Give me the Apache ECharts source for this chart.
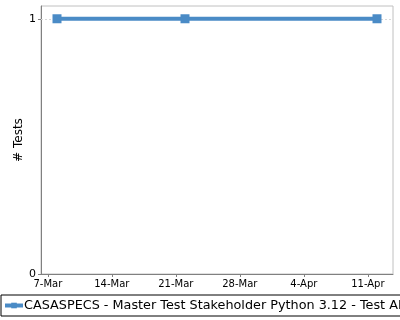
<!DOCTYPE html>
<html><head><meta charset="utf-8">
<script src="https://cdn.jsdelivr.net/npm/echarts@6/dist/echarts.min.js"></script>
<style>html,body{margin:0;padding:0;background:#fff}#c{width:400px;height:320px}</style>
</head><body><div id="c"></div>
<script>
const seriesName = 'CASASPECS - Master Test Stakeholder Python 3.12 - Test ALL';
const dates = [[2024,3,8],[2024,3,22],[2024,4,12]];
const testCounts = [1, 1, 1];
const tickDates = [[2024,3,7],[2024,3,14],[2024,3,21],[2024,3,28],[2024,4,4],[2024,4,11]];
const yTicks = [0, 1];
const months = ['Jan','Feb','Mar','Apr','May','Jun','Jul','Aug','Sep','Oct','Nov','Dec'];

const toTs = d => new Date(d[0], d[1]-1, d[2]).getTime();
const xs = dates.map(toTs);
const pad = (xs[xs.length-1]-xs[0]) * 0.05;
const font = 'DejaVu Sans';

const chart = echarts.init(document.getElementById('c'), null, {renderer:'canvas'});
chart.setOption({
  animation: false,
  textStyle: {fontFamily: font},
  grid: {left: 41, right: 7, top: 6, bottom: 46, show: true, borderColor: '#c0c0c0', borderWidth: 1,
    containLabel: false, outerBoundsMode: 'none'},
  xAxis: {
    type: 'value',
    min: xs[0] - pad, max: xs[xs.length-1] + pad,
    axisLine: {lineStyle: {color: '#808080', width: 1}},
    axisTick: {show: true, customValues: tickDates.map(toTs), length: 3, lineStyle: {color: '#808080'}},
    axisLabel: {customValues: tickDates.map(toTs), color: '#000', fontSize: 10, fontFamily: font, margin: 5,
      formatter: v => { const d = new Date(v); return d.getDate() + '-' + months[d.getMonth()]; }},
    splitLine: {show: false}
  },
  yAxis: {
    type: 'value', min: 0, max: 1.05,
    name: '# Tests', nameLocation: 'middle', nameGap: 16, nameMoveOverlap: false,
    nameTextStyle: {color: '#000', fontSize: 12, fontFamily: font},
    axisLine: {show: true, lineStyle: {color: '#808080', width: 1}},
    axisTick: {show: true, customValues: yTicks, length: 3, lineStyle: {color: '#808080'}},
    axisLabel: {customValues: yTicks, color: '#000', fontSize: 11, fontFamily: font, margin: 5},
    splitLine: {show: false}
  },
  legend: {
    left: 1, top: 295, padding: [4, 5, 4, 2], itemWidth: 18, itemHeight: 7,
    borderColor: '#000', borderWidth: 1, borderRadius: 0,
    lineStyle: {width: 4},
    textStyle: {fontSize: 12.8, color: '#000', fontFamily: font, padding: [0,0,0,-4]},
    data: [{name: seriesName}]
  },
  series: [{
    name: seriesName, type: 'line',
    data: xs.map((x, i) => [x, testCounts[i]]),
    symbol: 'rect', symbolSize: 9, showAllSymbol: true,
    lineStyle: {color: '#4a8bc6', width: 4},
    itemStyle: {color: '#4a8bc6'},
    markLine: {
      silent: true, symbol: 'none', label: {show: false}, z: 1,
      lineStyle: {color: '#d8d8d8', type: [2,2], width: 1},
      data: [{yAxis: yTicks[1]}]
    }
  }]
});
</script></body></html>
